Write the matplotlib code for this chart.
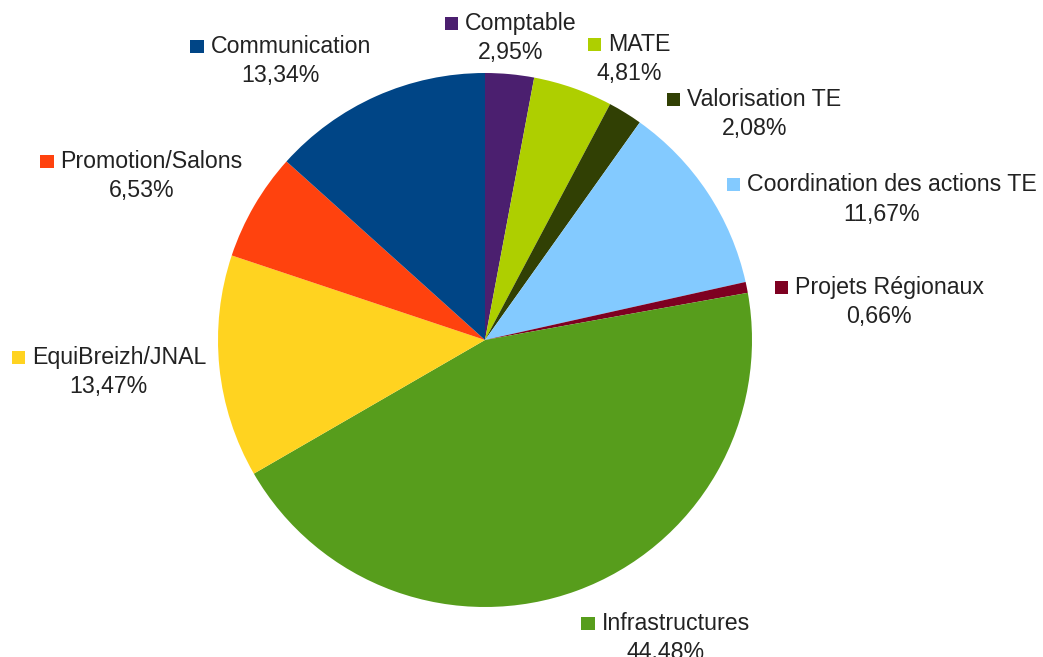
import numpy as np
import matplotlib
matplotlib.use('Agg')
from matplotlib import pyplot as plt
from matplotlib.offsetbox import DrawingArea, TextArea, HPacker, VPacker, AnnotationBbox
from matplotlib.patches import Rectangle

plt.rcParams['font.family'] = ['Liberation Sans', 'DejaVu Sans']

labels = ['Comptable', 'MATE', 'Valorisation TE', 'Coordination des actions TE',
          'Projets Régionaux', 'Infrastructures', 'EquiBreizh/JNAL',
          'Promotion/Salons', 'Communication']
values = [2.95, 4.81, 2.08, 11.67, 0.66, 44.48, 13.47, 6.53, 13.34]
colors = ['#4b1f6f', '#aecf00', '#314004', '#83caff', '#7e0021',
          '#579d1c', '#ffd320', '#ff420e', '#004586']

# label shifts (pixels, +x right, -y down) where labels were moved to avoid overlap
label_nudge = {'MATE': (10, -6), 'Valorisation TE': (35, -35),
               'Coordination des actions TE': (8, -37), 'Projets Régionaux': (15, -14),
               'Infrastructures': (0, -5)}

W, H = 1043, 657
cx, cy, R = 485, 340, 267

fig = plt.figure(figsize=(W / 100, H / 100), dpi=100)
ax = fig.add_axes([0, 0, 1, 1])
wedges, _ = ax.pie(values, colors=colors, startangle=90, counterclock=False,
                   radius=1, wedgeprops=dict(linewidth=0))
ax.set_xlim(-cx / R, (W - cx) / R)
ax.set_ylim(-(H - cy) / R, cy / R)
ax.axis('off')

txt = dict(fontsize=16.7, color='#222222')
for w, name, v, col in zip(wedges, labels, values, colors):
    th = np.deg2rad((w.theta1 + w.theta2) / 2)
    c, s = np.cos(th), np.sin(th)
    x, y = 1.05 * c, 1.05 * s
    if abs(c) < 0.15:
        bx = 0.5
    else:
        bx = 0 if c > 0 else 1
    if abs(s) < 0.38:
        by = 0.5
    else:
        by = 0 if s > 0 else 1
    if abs(c) < 0.15:
        by = 0 if s > 0 else 1

    sq = DrawingArea(9.5, 9.5)
    sq.add_artist(Rectangle((0, 0), 9.5, 9.5, facecolor=col, edgecolor='none'))
    row = HPacker(children=[sq, TextArea(name, textprops=txt)], align='center', pad=0, sep=5)
    pct = TextArea(f"{v:.2f}%".replace('.', ','), textprops=txt)
    box = VPacker(children=[row, pct], align='center', pad=0, sep=4.5)
    dx, dy = label_nudge.get(name, (0, 0))
    dy -= 3.5
    ab = AnnotationBbox(box, (x, y), xycoords='data', xybox=(dx * 0.72, dy * 0.72),
                        boxcoords='offset points', box_alignment=(bx, by),
                        frameon=False, pad=0)
    ax.add_artist(ab)

fig.savefig('out.png', dpi=100)
